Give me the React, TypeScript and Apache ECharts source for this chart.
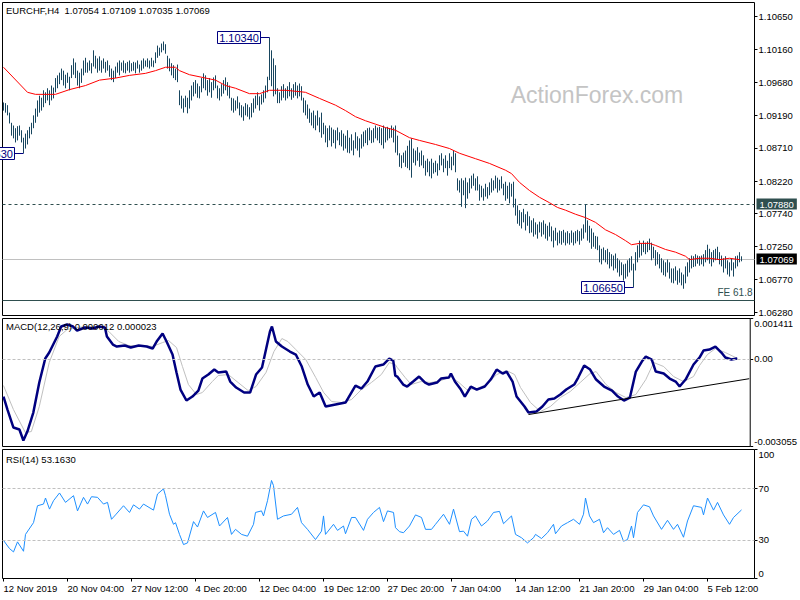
import React, { useEffect, useRef } from 'react';
import * as echarts from 'echarts';

const FONT = "'Liberation Sans', Arial, sans-serif";
const FS = 9.5;
const BAR_COLOR = '#18465f';
const SLATE = '#2F4F4F';

const SLOT_COUNT = 376;
const LABEL_STEP = 32;
const timeLabels = ['12 Nov 2019', '20 Nov 04:00', '27 Nov 12:00', '4 Dec 20:00', '12 Dec 04:00', '19 Dec 12:00', '27 Dec 20:00', '7 Jan 04:00', '14 Jan 12:00', '21 Jan 20:00', '29 Jan 04:00', '5 Feb 12:00'];

const PRICE_MIN = 1.06235;
const PRICE_MAX = 1.10856;
const priceTicks = [1.1065, 1.1016, 1.0968, 1.0919, 1.0871, 1.0822, 1.0774, 1.0725, 1.0677, 1.0628];
const MACD_MIN = -0.003055;
const MACD_MAX = 0.001411;
const macdTicks = [MACD_MIN, 0, MACD_MAX];
const rsiTicks = [0, 30, 70, 100];
const rsiLevels = [30, 70];

const titleMain = 'EURCHF,H4  1.07054 1.07109 1.07035 1.07069';
const titleMacd = 'MACD(12,26,9) 0.000012 0.000023';
const titleRsi = 'RSI(14) 53.1630';

const levelResistance = 1.0788;
const levelBid = 1.07069;
const levelFE = 1.06467;

const annotations = [
  { index: 133, price: 1.1034, text: '1.10340' },
  { index: 315, price: 1.0665, text: '1.06650' },
  { index: 10, price: 1.0863, text: '1.08630' },
];

const highs = [
  1.0938, 1.0937, 1.0934, 1.0923, 1.0908, 1.0904, 1.0900, 1.0903, 1.0904, 1.0897,
  1.0886, 1.0892, 1.0897, 1.0902, 1.0908, 1.0919, 1.0929, 1.0941, 1.0948, 1.0945,
  1.0956, 1.0953, 1.0959, 1.0956, 1.0963, 1.0960, 1.0974, 1.0978, 1.0982, 1.0988,
  1.0985, 1.0979, 1.0982, 1.0976, 1.0993, 1.1003, 1.0997, 1.0985, 1.0982, 1.0988,
  1.1000, 1.1004, 1.0997, 1.1000, 1.0996, 1.1015, 1.1007, 1.1003, 1.1006, 1.1000,
  1.1003, 1.0998, 1.1000, 1.0993, 1.0988, 1.0985, 1.0991, 1.0997, 1.1000, 1.0997,
  1.1000, 1.0996, 1.0998, 1.1000, 1.0996, 1.0998, 1.0997, 1.1000, 1.0994, 1.1000,
  1.1003, 1.1000, 1.1003, 1.1000, 1.1004, 1.1000, 1.1012, 1.1022, 1.1019, 1.1025,
  1.1028, 1.1024, 1.1007, 1.1003, 1.0996, 1.0993, 1.0988, 1.0994, 1.0956, 1.0948,
  1.0944, 1.0948, 1.0945, 1.0956, 1.0963, 1.0968, 1.0971, 1.0966, 1.0962, 1.0974,
  1.0981, 1.0978, 1.0971, 1.0974, 1.0968, 1.0975, 1.0978, 1.0963, 1.0959, 1.0965,
  1.0971, 1.0975, 1.0968, 1.0963, 1.0945, 1.0944, 1.0941, 1.0947, 1.0938, 1.0934,
  1.0932, 1.0937, 1.0935, 1.0931, 1.0937, 1.0944, 1.0948, 1.0953, 1.0947, 1.0950,
  1.0956, 1.0963, 1.0976, 1.1034, 1.1015, 1.1003, 1.0993, 1.0959, 1.0953, 1.0962,
  1.0965, 1.0959, 1.0962, 1.0968, 1.0959, 1.0965, 1.0968, 1.0963, 1.0966, 1.0962,
  1.0945, 1.0941, 1.0935, 1.0929, 1.0923, 1.0926, 1.0919, 1.0926, 1.0916, 1.0923,
  1.0908, 1.0904, 1.0900, 1.0904, 1.0901, 1.0898, 1.0897, 1.0901, 1.0894, 1.0897,
  1.0892, 1.0889, 1.0897, 1.0886, 1.0891, 1.0882, 1.0894, 1.0888, 1.0885, 1.0891,
  1.0895, 1.0897, 1.0900, 1.0901, 1.0897, 1.0900, 1.0904, 1.0901, 1.0902, 1.0900,
  1.0904, 1.0901, 1.0902, 1.0900, 1.0904, 1.0901, 1.0904, 1.0889, 1.0863, 1.0860,
  1.0864, 1.0867, 1.0874, 1.0882, 1.0885, 1.0870, 1.0867, 1.0872, 1.0864, 1.0867,
  1.0860, 1.0852, 1.0855, 1.0851, 1.0855, 1.0849, 1.0852, 1.0848, 1.0860, 1.0863,
  1.0855, 1.0860, 1.0852, 1.0863, 1.0858, 1.0867, 1.0863, 1.0826, 1.0823, 1.0826,
  1.0823, 1.0827, 1.0820, 1.0826, 1.0830, 1.0833, 1.0826, 1.0829, 1.0817, 1.0815,
  1.0811, 1.0818, 1.0813, 1.0820, 1.0826, 1.0823, 1.0830, 1.0827, 1.0824, 1.0829,
  1.0818, 1.0821, 1.0815, 1.0820, 1.0818, 1.0821, 1.0796, 1.0786, 1.0779, 1.0776,
  1.0781, 1.0773, 1.0777, 1.0770, 1.0764, 1.0767, 1.0761, 1.0758, 1.0762, 1.0761,
  1.0764, 1.0759, 1.0756, 1.0761, 1.0755, 1.0749, 1.0753, 1.0746, 1.0749, 1.0748,
  1.0750, 1.0746, 1.0748, 1.0745, 1.0749, 1.0746, 1.0748, 1.0750, 1.0748, 1.0752,
  1.0758, 1.0788, 1.0764, 1.0756, 1.0752, 1.0746, 1.0741, 1.0740, 1.0727, 1.0722,
  1.0724, 1.0720, 1.0722, 1.0717, 1.0714, 1.0712, 1.0715, 1.0708, 1.0705, 1.0702,
  1.0699, 1.0700, 1.0705, 1.0708, 1.0711, 1.0700, 1.0717, 1.0727, 1.0734, 1.0730,
  1.0734, 1.0731, 1.0733, 1.0737, 1.0731, 1.0725, 1.0720, 1.0717, 1.0714, 1.0708,
  1.0705, 1.0702, 1.0706, 1.0702, 1.0693, 1.0693, 1.0696, 1.0690, 1.0693, 1.0687,
  1.0684, 1.0696, 1.0702, 1.0708, 1.0712, 1.0711, 1.0714, 1.0712, 1.0711, 1.0712,
  1.0714, 1.0720, 1.0728, 1.0722, 1.0717, 1.0720, 1.0722, 1.0725, 1.0717, 1.0712,
  1.0708, 1.0711, 1.0705, 1.0702, 1.0708, 1.0702, 1.0711, 1.0712, 1.0717, 1.07109,
];

const lows = [
  1.0926, 1.0923, 1.0919, 1.0907, 1.0889, 1.0885, 1.0879, 1.0882, 1.0889, 1.0879,
  1.0863, 1.0870, 1.0876, 1.0885, 1.0891, 1.0900, 1.0908, 1.0917, 1.0923, 1.0926,
  1.0931, 1.0937, 1.0941, 1.0934, 1.0941, 1.0944, 1.0953, 1.0959, 1.0965, 1.0971,
  1.0963, 1.0959, 1.0967, 1.0956, 1.0974, 1.0979, 1.0974, 1.0963, 1.0959, 1.0967,
  1.0978, 1.0982, 1.0982, 1.0985, 1.0981, 1.0991, 1.0988, 1.0982, 1.0985, 1.0982,
  1.0988, 1.0982, 1.0985, 1.0976, 1.0971, 1.0968, 1.0974, 1.0982, 1.0978, 1.0985,
  1.0982, 1.0981, 1.0985, 1.0982, 1.0984, 1.0985, 1.0981, 1.0988, 1.0982, 1.0985,
  1.0988, 1.0991, 1.0990, 1.0988, 1.0991, 1.0990, 1.0996, 1.1004, 1.1007, 1.1012,
  1.1015, 1.1010, 1.0988, 1.0984, 1.0978, 1.0974, 1.0971, 1.0968, 1.0934, 1.0929,
  1.0923, 1.0931, 1.0922, 1.0929, 1.0941, 1.0947, 1.0951, 1.0945, 1.0944, 1.0953,
  1.0959, 1.0956, 1.0948, 1.0953, 1.0945, 1.0956, 1.0959, 1.0944, 1.0941, 1.0947,
  1.0951, 1.0956, 1.0948, 1.0944, 1.0926, 1.0923, 1.0926, 1.0929, 1.0919, 1.0916,
  1.0911, 1.0919, 1.0917, 1.0913, 1.0916, 1.0923, 1.0929, 1.0934, 1.0926, 1.0935,
  1.0938, 1.0944, 1.0953, 1.0971, 1.0962, 1.0947, 1.0950, 1.0937, 1.0937, 1.0941,
  1.0945, 1.0941, 1.0944, 1.0947, 1.0942, 1.0945, 1.0948, 1.0944, 1.0947, 1.0941,
  1.0923, 1.0919, 1.0914, 1.0908, 1.0904, 1.0900, 1.0897, 1.0904, 1.0894, 1.0886,
  1.0891, 1.0879, 1.0872, 1.0882, 1.0873, 1.0878, 1.0870, 1.0882, 1.0875, 1.0873,
  1.0867, 1.0870, 1.0864, 1.0863, 1.0867, 1.0860, 1.0870, 1.0867, 1.0857, 1.0870,
  1.0873, 1.0878, 1.0875, 1.0882, 1.0878, 1.0879, 1.0885, 1.0882, 1.0878, 1.0875,
  1.0870, 1.0879, 1.0882, 1.0885, 1.0886, 1.0879, 1.0864, 1.0860, 1.0843, 1.0841,
  1.0849, 1.0843, 1.0841, 1.0838, 1.0827, 1.0849, 1.0845, 1.0852, 1.0843, 1.0845,
  1.0841, 1.0830, 1.0835, 1.0829, 1.0826, 1.0833, 1.0835, 1.0830, 1.0838, 1.0845,
  1.0835, 1.0841, 1.0830, 1.0841, 1.0838, 1.0845, 1.0835, 1.0808, 1.0805, 1.0784,
  1.0801, 1.0782, 1.0796, 1.0804, 1.0811, 1.0815, 1.0808, 1.0808, 1.0793, 1.0798,
  1.0793, 1.0799, 1.0796, 1.0801, 1.0805, 1.0808, 1.0811, 1.0805, 1.0808, 1.0811,
  1.0801, 1.0793, 1.0796, 1.0789, 1.0799, 1.0783, 1.0771, 1.0759, 1.0756, 1.0752,
  1.0761, 1.0749, 1.0756, 1.0745, 1.0746, 1.0740, 1.0743, 1.0737, 1.0746, 1.0740,
  1.0743, 1.0737, 1.0734, 1.0740, 1.0733, 1.0724, 1.0734, 1.0727, 1.0730, 1.0728,
  1.0731, 1.0727, 1.0730, 1.0728, 1.0731, 1.0727, 1.0730, 1.0733, 1.0728, 1.0734,
  1.0737, 1.0746, 1.0734, 1.0731, 1.0722, 1.0725, 1.0722, 1.0720, 1.0702, 1.0699,
  1.0705, 1.0702, 1.0699, 1.0693, 1.0696, 1.0690, 1.0693, 1.0687, 1.0681, 1.0683,
  1.0675, 1.0678, 1.0681, 1.0687, 1.0690, 1.0665, 1.0690, 1.0702, 1.0709, 1.0712,
  1.0717, 1.0714, 1.0717, 1.0720, 1.0705, 1.0708, 1.0697, 1.0699, 1.0693, 1.0687,
  1.0683, 1.0681, 1.0687, 1.0678, 1.0672, 1.0671, 1.0675, 1.0669, 1.0672, 1.0668,
  1.0663, 1.0671, 1.0681, 1.0687, 1.0693, 1.0695, 1.0696, 1.0700, 1.0697, 1.0699,
  1.0696, 1.0702, 1.0705, 1.0700, 1.0696, 1.0702, 1.0705, 1.0706, 1.0699, 1.0696,
  1.0687, 1.0693, 1.0684, 1.0681, 1.0690, 1.0681, 1.0693, 1.0696, 1.0702, 1.07035,
];

const maPoints = [
  [0, 1.099], [12, 1.0953], [16, 1.095], [26, 1.095], [33, 1.0957], [41, 1.0963], [48, 1.0971], [56, 1.0974],
  [63, 1.0978], [71, 1.0981], [76, 1.0985], [81, 1.099], [86, 1.099], [88, 1.0985], [93, 1.0979], [106, 1.0971],
  [111, 1.0963], [116, 1.0959], [123, 1.0951], [128, 1.0951], [133, 1.0956], [141, 1.0956], [148, 1.0954],
  [151, 1.0953], [158, 1.0944], [166, 1.0934], [171, 1.0926], [176, 1.0917], [181, 1.0911], [186, 1.0906],
  [191, 1.0901], [196, 1.0897], [203, 1.0886], [208, 1.0882], [216, 1.0876], [223, 1.087], [228, 1.0863],
  [236, 1.0855], [243, 1.0848], [251, 1.0838], [254, 1.0833], [258, 1.082], [263, 1.0808], [268, 1.0798],
  [273, 1.079], [277, 1.0783], [281, 1.0779], [286, 1.0773], [291, 1.0768], [296, 1.0761], [301, 1.075],
  [306, 1.0743], [311, 1.0734], [314, 1.0728], [318, 1.073], [323, 1.073], [326, 1.0727], [331, 1.0721],
  [336, 1.0717], [341, 1.0711], [343, 1.0706], [348, 1.0708], [353, 1.0708], [358, 1.0706], [363, 1.0708],
  [368, 1.0706],
];

const macdMain = [
  [0, -0.001312], [2, -0.001765], [5, -0.002393], [8, -0.002463], [10, -0.002847], [12, -0.002533], [15, -0.00187],
  [18, -0.000823], [21, 0.000014], [23, 0.000223], [27, 0.000782], [29, 0.00113], [32, 0.0012], [35, 0.00113],
  [37, 0.000991], [41, 0.001096], [45, 0.001061], [48, 0.00113], [51, 0.001096], [52, 0.000782], [55, 0.000502],
  [57, 0.000433], [61, 0.000468], [64, 0.000398], [68, 0.000468], [72, 0.000433], [75, 0.000363], [77, 0.000607],
  [80, 0.000886], [82, 0.000607], [85, 0.000154], [87, -0.000475], [89, -0.001068], [92, -0.001451], [95, -0.001312],
  [98, -0.001103], [100, -0.000684], [103, -0.000544], [106, -0.00037], [108, -0.000475], [112, -0.00044],
  [114, -0.000789], [117, -0.000998], [121, -0.001172], [124, -0.001172], [127, -0.000544], [130, -0.0003],
  [132, 0.000328], [134, 0.000956], [135, 0.00113], [137, 0.000607], [140, 0.000433], [144, 0.000258],
  [147, 0.000154], [150, -0.000265], [153, -0.000893], [156, -0.001312], [159, -0.001172], [162, -0.001661],
  [167, -0.001591], [172, -0.001521], [177, -0.000928], [180, -0.001033], [183, -0.000789], [187, -0.000265],
  [191, -0.000195], [194, 0.000014], [196, -0.000056], [197, -0.000579], [198, -0.000614], [201, -0.000893],
  [203, -0.000963], [206, -0.000789], [209, -0.000614], [212, -0.000823], [214, -0.000893], [218, -0.000823],
  [220, -0.000684], [224, -0.000649], [225, -0.000509], [227, -0.000789], [230, -0.001068], [232, -0.001312],
  [235, -0.000963], [238, -0.001068], [242, -0.000963], [245, -0.000719], [248, -0.00037], [251, -0.000509],
  [253, -0.00044], [256, -0.000789], [258, -0.001312], [262, -0.001661], [264, -0.00187], [268, -0.001835],
  [271, -0.001661], [274, -0.001417], [277, -0.001382], [280, -0.001242], [283, -0.001068], [287, -0.000893],
  [289, -0.000649], [292, -0.00023], [295, -0.00037], [298, -0.000719], [302, -0.000963], [306, -0.001103],
  [309, -0.001312], [312, -0.001451], [315, -0.001347], [318, -0.00044], [321, -0.000091], [323, 0.000084],
  [326, -0.000021], [328, -0.00044], [332, -0.000509], [335, -0.000684], [338, -0.000789], [340, -0.000963],
  [343, -0.000719], [347, -0.000195], [350, 0.000049], [352, 0.000293], [355, 0.000328], [358, 0.000433],
  [361, 0.000223], [363, 0.000049], [366, -0.000021], [369, 0.000012],
];

const macdSignal = [
  [0, -0.000928], [5, -0.001765], [11, -0.002568], [14, -0.002533], [18, -0.001661], [23, -0.000126], [28, 0.000782],
  [32, 0.001026], [37, 0.001096], [42, 0.00113], [48, 0.00113], [53, 0.000956], [58, 0.000607], [63, 0.000468],
  [70, 0.000468], [75, 0.000433], [80, 0.000572], [83, 0.000642], [87, 0.000398], [90, -0.000265], [93, -0.000893],
  [97, -0.001242], [100, -0.001172], [105, -0.000789], [108, -0.000579], [113, -0.000544], [118, -0.000823],
  [123, -0.001103], [127, -0.000963], [132, -0.000475], [136, 0.000258], [140, 0.000712], [143, 0.000607],
  [147, 0.000328], [152, -0.000021], [157, -0.000649], [161, -0.001172], [165, -0.001486], [170, -0.001521],
  [175, -0.001417], [180, -0.001068], [185, -0.000823], [190, -0.000544], [194, -0.000126], [197, -0.000195],
  [198, -0.0003], [202, -0.000649], [205, -0.000893], [210, -0.000789], [215, -0.000823], [220, -0.000754],
  [225, -0.000614], [229, -0.000823], [233, -0.001068], [238, -0.001033], [243, -0.000893], [248, -0.000544],
  [253, -0.000405], [257, -0.000544], [260, -0.000998], [265, -0.001521], [270, -0.001835], [275, -0.001661],
  [280, -0.001347], [285, -0.001137], [290, -0.000823], [295, -0.000509], [298, -0.00044], [303, -0.000893],
  [308, -0.001172], [313, -0.001347], [318, -0.001242], [323, -0.000719], [327, -0.000126], [332, -0.000265],
  [337, -0.000614], [342, -0.000789], [347, -0.000614], [350, -0.00023], [354, 0.000154], [358, 0.000363],
  [363, 0.000223], [369, 0.000023],
];

const macdTrend = [[264, -0.00194], [375, -0.00069]];

const rsiPoints = [
  [0, 29.5], [3, 23.2], [5, 20.6], [7, 28.4], [10, 21.1], [11, 34.2], [15, 43.3], [17, 56.4], [20, 57.7], [21, 62.4],
  [23, 53.8], [25, 60.3], [28, 66.3], [31, 59], [35, 64.2], [37, 52.4], [40, 62.9], [42, 57.7], [44, 63.4], [47, 62.9],
  [50, 57.7], [52, 59], [54, 45.9], [56, 49.3], [60, 56.4], [63, 51.2], [65, 57.1], [68, 53.8], [70, 57.7], [75, 53],
  [77, 65.5], [80, 69.5], [81, 64.2], [83, 49.8], [85, 42], [86, 43.3], [88, 34.2], [90, 26.3], [92, 27.6], [95, 44.1],
  [97, 39.9], [100, 52.4], [102, 47.3], [106, 51.2], [108, 40.7], [112, 47.3], [114, 34.2], [116, 38.1], [119, 34.2],
  [122, 32.8], [125, 42], [126, 51.2], [129, 52.4], [130, 48.5], [132, 60.3], [134, 76], [135, 72], [137, 45.9],
  [140, 48.5], [144, 49.8], [147, 55.1], [149, 43.3], [152, 38.1], [156, 30.2], [159, 36.7], [160, 48.5], [161, 34.2],
  [165, 42], [167, 37.3], [170, 40.7], [171, 34.7], [174, 47.3], [176, 47.3], [180, 37.3], [182, 45.9], [185, 51.2],
  [188, 55.1], [190, 44.1], [192, 52.4], [195, 51.2], [196, 39.4], [198, 36.3], [200, 35.5], [203, 40.7], [206, 49.3],
  [209, 47.3], [211, 38.1], [214, 38.1], [216, 42], [220, 49.8], [223, 42], [225, 53.8], [228, 36.3], [230, 36.7],
  [232, 32.8], [234, 45.9], [236, 48.5], [239, 40.7], [242, 44.6], [245, 51.2], [248, 52], [250, 42.5], [254, 48.5],
  [256, 34.2], [259, 31.6], [262, 27.6], [265, 31.6], [266, 34.2], [269, 31], [272, 35.5], [275, 42], [276, 34.7],
  [279, 40.7], [282, 43.3], [285, 45.9], [288, 42], [290, 49.8], [291, 62.4], [293, 48.5], [295, 43.3], [298, 45.9],
  [300, 35.5], [302, 39.4], [305, 34.2], [308, 37.3], [310, 28.9], [312, 30.2], [314, 40.7], [315, 31.6], [317, 51.2],
  [320, 57.1], [323, 55.6], [325, 48.5], [329, 38.1], [332, 45.1], [335, 38.1], [337, 42], [340, 32], [342, 44.6],
  [345, 56.4], [349, 55.1], [350, 49.3], [352, 62.4], [355, 53], [357, 59], [360, 49.3], [363, 42], [365, 47.3],
  [369, 53.163],
];

const categories = Array.from({ length: SLOT_COUNT }, (_, i) =>
  i % LABEL_STEP === 0 && i / LABEL_STEP < timeLabels.length ? timeLabels[i / LABEL_STEP] : ''
);
const bars = highs.map((h, i) => [i, h, lows[i]]);

const GRID_LEFT = 2.5;
const GRID_WIDTH = 752;
const grids = [
  { top: 2.5, height: 313 },
  { top: 318.5, height: 128 },
  { top: 449.5, height: 129 },
];

const textBase = { color: '#000', fontSize: FS, fontFamily: FONT };
const showLabel = (index: number) => categories[index] !== '';

function buildOption(): any {
  return {
    backgroundColor: '#ffffff',
    animation: false,
    title: [
      { text: titleMain, left: 6, top: 5, padding: 0, textStyle: { ...textBase, fontWeight: 'normal' } },
      { text: titleMacd, left: 6, top: 321, padding: 0, textStyle: { ...textBase, fontWeight: 'normal' } },
      { text: titleRsi, left: 6, top: 454, padding: 0, textStyle: { ...textBase, fontWeight: 'normal' } },
    ],
    grid: grids.map((g) => ({
      left: GRID_LEFT, width: GRID_WIDTH, top: g.top, height: g.height,
      show: true, borderColor: '#000', borderWidth: 1, backgroundColor: 'transparent',
    })),
    xAxis: grids.map((_, k) => ({
      type: 'category', gridIndex: k, data: categories, boundaryGap: true,
      show: k === 2,
      axisLine: { show: false },
      axisTick: { show: true, alignWithLabel: true, interval: (idx: number) => showLabel(idx), length: 3, lineStyle: { color: '#000' } },
      axisLabel: { interval: (idx: number) => showLabel(idx), align: 'left', margin: 5, ...textBase },
      splitLine: { show: false },
    })),
    yAxis: [
      {
        gridIndex: 0, type: 'value', position: 'right', min: PRICE_MIN, max: PRICE_MAX, scale: true,
        axisLine: { show: false }, splitLine: { show: false },
        axisTick: { show: true, length: 3, customValues: priceTicks, lineStyle: { color: '#000' } },
        axisLabel: { customValues: priceTicks, formatter: (v: number) => v.toFixed(5), margin: 4, ...textBase },
      },
      {
        gridIndex: 1, type: 'value', position: 'right', min: MACD_MIN, max: MACD_MAX,
        axisLine: { show: false }, splitLine: { show: false },
        axisTick: { show: true, length: 3, customValues: macdTicks, lineStyle: { color: '#000' } },
        axisLabel: {
          customValues: macdTicks, margin: 4, ...textBase,
          verticalAlignMinLabel: 'bottom', verticalAlignMaxLabel: 'top',
          formatter: (v: number) => (v === 0 ? '0.00' : v.toFixed(6)),
        },
      },
      {
        gridIndex: 2, type: 'value', position: 'right', min: 0, max: 100,
        axisLine: { show: false }, splitLine: { show: false },
        axisTick: { show: true, length: 3, customValues: rsiTicks, lineStyle: { color: '#000' } },
        axisLabel: {
          customValues: rsiTicks, margin: 4, ...textBase,
          verticalAlignMinLabel: 'bottom', verticalAlignMaxLabel: 'top',
        },
      },
    ],
    series: [
      {
        type: 'custom', xAxisIndex: 0, yAxisIndex: 0, data: bars, silent: true, z: 3,
        encode: { x: 0, y: [1, 2] },
        renderItem: (_params: any, api: any) => {
          const i = api.value(0);
          const hi = api.coord([i, api.value(1)]);
          const lo = api.coord([i, api.value(2)]);
          return {
            type: 'line',
            shape: { x1: hi[0], y1: hi[1], x2: hi[0], y2: lo[1] },
            style: { stroke: BAR_COLOR, lineWidth: 1 },
          };
        },
      },
      {
        type: 'line', xAxisIndex: 0, yAxisIndex: 0, data: maPoints, showSymbol: false, silent: true, z: 4,
        lineStyle: { color: '#ff0000', width: 1 }, itemStyle: { color: '#ff0000' },
        markLine: {
          silent: true, symbol: 'none', animation: false, z: 2, precision: 6,
          data: [
            {
              yAxis: levelResistance,
              lineStyle: { color: SLATE, type: [3, 3], width: 1 },
              label: { show: true, position: 'end', distance: 2, formatter: levelResistance.toFixed(5), backgroundColor: SLATE, color: '#fff', padding: [1, 3, 0, 3], fontSize: FS, fontFamily: FONT },
            },
            {
              yAxis: levelBid,
              lineStyle: { color: '#c0c0c0', type: 'solid', width: 1 },
              label: { show: true, position: 'end', distance: 2, formatter: levelBid.toFixed(5), backgroundColor: '#000', color: '#fff', padding: [1, 3, 0, 3], fontSize: FS, fontFamily: FONT },
            },
            {
              yAxis: levelFE,
              lineStyle: { color: SLATE, type: 'solid', width: 1 },
              label: { show: true, position: 'insideEndTop', distance: 2, formatter: 'FE 61.8', color: SLATE, fontSize: FS + 0.5, fontFamily: FONT },
            },
          ],
        },
      },
      {
        type: 'line', xAxisIndex: 1, yAxisIndex: 1, data: macdSignal, showSymbol: false, silent: true,
        lineStyle: { color: '#c0c0c0', width: 1 }, itemStyle: { color: '#c0c0c0' },
        markLine: {
          silent: true, symbol: 'none', animation: false, label: { show: false }, precision: 6,
          lineStyle: { color: '#c0c0c0', type: [3, 2], width: 1 },
          data: [{ yAxis: 0 }],
        },
      },
      {
        type: 'line', xAxisIndex: 1, yAxisIndex: 1, data: macdMain, showSymbol: false, silent: true, z: 3,
        lineStyle: { color: '#000080', width: 2.5 }, itemStyle: { color: '#000080' },
      },
      {
        type: 'line', xAxisIndex: 1, yAxisIndex: 1, data: macdTrend, showSymbol: false, silent: true, z: 4,
        lineStyle: { color: '#000', width: 1 }, itemStyle: { color: '#000' },
      },
      {
        type: 'line', xAxisIndex: 2, yAxisIndex: 2, data: rsiPoints, showSymbol: false, silent: true,
        lineStyle: { color: '#1e90ff', width: 1 }, itemStyle: { color: '#1e90ff' },
        markLine: {
          silent: true, symbol: 'none', animation: false, label: { show: false }, precision: 6,
          lineStyle: { color: '#c0c0c0', type: [3, 2], width: 1 },
          data: rsiLevels.map((v) => ({ yAxis: v })),
        },
      },
    ],
  };
}

function buildGraphics(chart: any) {
  const boxW = 43;
  const gap = 10;
  const els: any[] = [
    {
      type: 'text', id: 'watermark', x: 597, y: 95, z: 0, silent: true,
      style: { text: 'ActionForex.com', fill: '#c4c4c4', font: "23px 'Liberation Sans', Arial, sans-serif", textAlign: 'center', textVerticalAlign: 'middle' },
    },
  ];
  annotations.forEach((a, k) => {
    const p = chart.convertToPixel({ gridIndex: 0 }, [a.index, a.price]);
    if (!p) return;
    const cy = Math.round(p[1]) + 0.5;
    const right = Math.round(p[0] - gap) + 0.5;
    els.push(
      { type: 'line', id: 'al' + k, z: 50, shape: { x1: right, y1: cy, x2: p[0], y2: cy }, style: { stroke: '#000080', lineWidth: 1 } },
      { type: 'rect', id: 'ab' + k, z: 50, shape: { x: right - boxW, y: cy - 6, width: boxW, height: 12 }, style: { fill: '#fff', stroke: '#000080', lineWidth: 1 } },
      { type: 'text', id: 'at' + k, z: 51, x: right - boxW / 2, y: cy + 0.5, style: { text: a.text, fill: '#000080', font: "11px 'Liberation Sans', Arial, sans-serif", textAlign: 'center', textVerticalAlign: 'middle' } }
    );
  });
  return els;
}

export default function App() {
  const ref = useRef<HTMLDivElement>(null);
  useEffect(() => {
    document.body.style.margin = '0';
    const chart = echarts.init(ref.current as HTMLDivElement, null, { renderer: 'svg' });
    chart.setOption(buildOption());
    chart.setOption({ graphic: buildGraphics(chart) });
    return () => chart.dispose();
  }, []);
  return <div ref={ref} style={{ width: 800, height: 600 }} />;
}
